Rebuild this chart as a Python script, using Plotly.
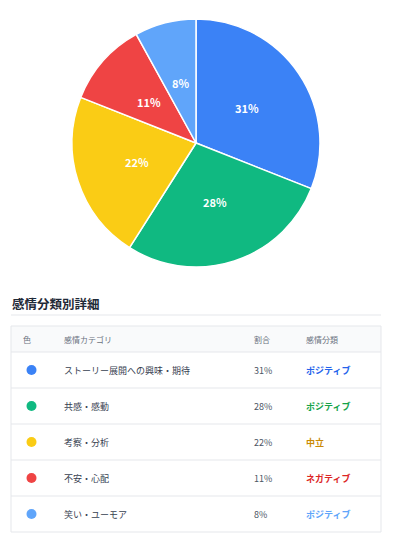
import math
import plotly.graph_objects as go

categories = ["ストーリー展開への興味・期待", "共感・感動", "考察・分析", "不安・心配", "笑い・ユーモア"]
values = [31, 28, 22, 11, 8]
colors = ["#3b82f6", "#10b981", "#facc15", "#ef4444", "#60a5fa"]
sentiments = ["ポジティブ", "ポジティブ", "中立", "ネガティブ", "ポジティブ"]
sentiment_colors = ["#2563eb", "#16a34a", "#ca8a04", "#dc2626", "#60a5fa"]
headers = ["色", "感情カテゴリ", "割合", "感情分類"]
title_text = "感情分類別詳細"

W, H = 398, 545
FONT = "Noto Sans CJK JP, Noto Sans, sans-serif"

cx, cy, r = 196, 143, 124

fig = go.Figure()
fig.add_trace(go.Pie(
    labels=categories, values=values, sort=False, direction="clockwise", rotation=0,
    marker=dict(colors=colors, line=dict(color="white", width=1.5)),
    textinfo="none",
    domain=dict(x=[(cx - r) / W, (cx + r) / W], y=[1 - (cy + r) / H, 1 - (cy - r) / H]),
    showlegend=False, hoverinfo="label+percent",
))

shapes = []
annotations = []

# pie labels at half radius (mid-angle of each slice)
total = sum(values)
cum = 0
for v in values:
    mid = (cum + v / 2) / total * 2 * math.pi
    cum += v
    annotations.append(dict(x=cx + 0.5 * r * math.sin(mid), y=cy - 0.5 * r * math.cos(mid),
                            text=f"{v}%", showarrow=False, xanchor="center", yanchor="middle",
                            font=dict(size=11, color="white", family=FONT, weight="bold")))

# title
annotations.append(dict(x=10, y=303, text=title_text, xanchor="left", yanchor="middle", showarrow=False,
                        font=dict(size=12.5, color="#1f2937", family=FONT, weight="bold")))
shapes.append(dict(type="line", x0=11, x1=381, y0=315, y1=315, line=dict(color="#e5e7eb", width=1)))

# table
top, header_h, row_h = 326, 26, 36
left, right = 11, 381
n = len(categories)
bottom = top + header_h + row_h * n
shapes.append(dict(type="rect", x0=left, x1=right, y0=top, y1=top + header_h,
                   fillcolor="#f9fafb", line=dict(width=0), layer="below"))
shapes.append(dict(type="rect", x0=left, x1=right, y0=top, y1=bottom,
                   fillcolor="rgba(0,0,0,0)", line=dict(color="#e5e7eb", width=1)))
for i in range(n):
    y = top + header_h + row_h * i
    shapes.append(dict(type="line", x0=left, x1=right, y0=y, y1=y, line=dict(color="#e5e7eb", width=1)))

col_x = [21, 62, 252, 304]
hy = top + header_h / 2
for hx, ht in zip(col_x, headers):
    annotations.append(dict(x=hx, y=hy, text=ht, xanchor="left", yanchor="middle", showarrow=False,
                            font=dict(size=8, color="#6b7280", family=FONT)))

row_y = [top + header_h + row_h * i + row_h / 2 for i in range(n)]
for i in range(n):
    annotations.append(dict(x=col_x[1], y=row_y[i], text=categories[i], xanchor="left", yanchor="middle",
                            showarrow=False, font=dict(size=9, color="#374151", family=FONT)))
    annotations.append(dict(x=col_x[2], y=row_y[i], text=f"{values[i]}%", xanchor="left", yanchor="middle",
                            showarrow=False, font=dict(size=9, color="#4b5563", family=FONT)))
    annotations.append(dict(x=col_x[3], y=row_y[i], text=sentiments[i], xanchor="left", yanchor="middle",
                            showarrow=False, font=dict(size=9, color=sentiment_colors[i], family=FONT, weight="bold")))

fig.add_trace(go.Scatter(
    x=[31.5] * n, y=row_y, mode="markers",
    marker=dict(size=10, color=colors, line=dict(width=0)),
    showlegend=False, hoverinfo="skip",
))

fig.update_layout(
    width=W, height=H, margin=dict(l=0, r=0, t=0, b=0),
    paper_bgcolor="white", plot_bgcolor="rgba(0,0,0,0)",
    xaxis=dict(range=[0, W], visible=False, fixedrange=True, domain=[0, 1]),
    yaxis=dict(range=[H, 0], visible=False, fixedrange=True, domain=[0, 1]),
    shapes=shapes, annotations=annotations,
    font=dict(family=FONT),
)

fig.write_html("out.html", config={"displayModeBar": False})
